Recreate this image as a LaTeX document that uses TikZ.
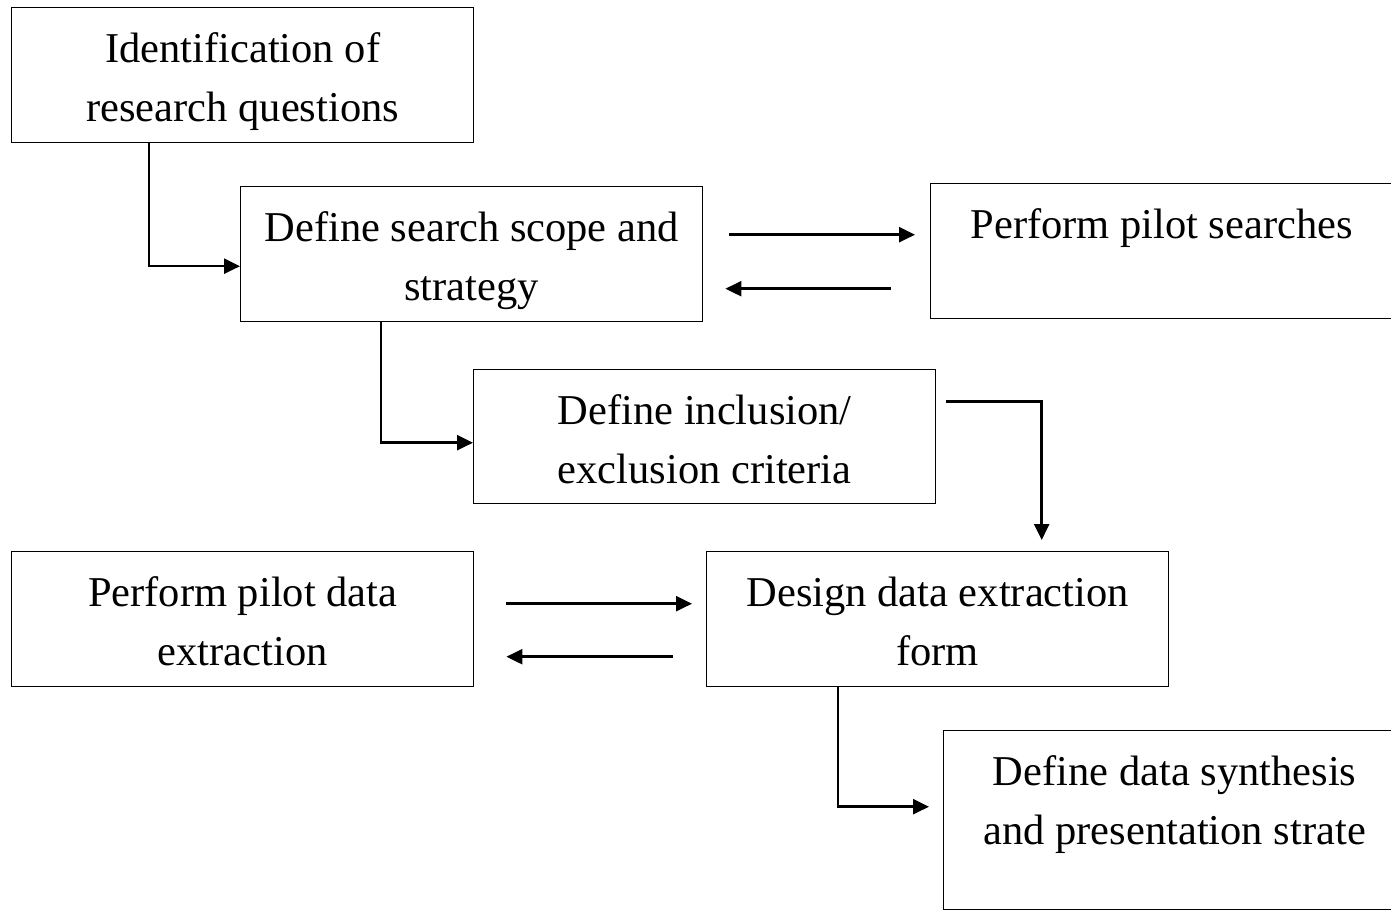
\documentclass[tikz,border=0pt]{standalone}
\usepackage{fontspec}
\setmainfont{Liberation Serif}
\usetikzlibrary{calc,arrows.meta}
\newcommand{\boxtext}[2]{\parbox[c][#1][t]{462pt}{\centering\rule{0pt}{55pt}#2}}
\begin{document}
\begin{tikzpicture}[x=1pt,y=-1pt,
  stepbox/.style={draw=black,line width=1.4pt,inner sep=0pt,anchor=north west,
    font=\fontsize{42.5}{59}\selectfont},
  conn/.style={line width=2.5pt,-{Triangle[length=16pt,width=15pt]}}]
\useasboundingbox (0,0) rectangle (1391,910);
\node[stepbox] (b1) at (11,7) {\boxtext{135pt}{Identification of\\research questions}};
\node[stepbox] (b2) at (240,186) {\boxtext{135pt}{Define search scope and\\strategy}};
\node[stepbox] (b3) at (930,183) {\boxtext{135pt}{Perform pilot searches}};
\node[stepbox] (b4) at (473,369) {\boxtext{134pt}{Define inclusion/\\exclusion criteria}};
\node[stepbox] (b5) at (11,551) {\boxtext{135pt}{Perform pilot data\\extraction}};
\node[stepbox] (b6) at (706,551) {\boxtext{135pt}{Design data extraction\\form}};
\node[stepbox] (b7) at (943,730) {\boxtext{179pt}{Define data synthesis\\and presentation strate}};
% connectors
\draw[conn] ($(b1.south west)+(138,0)$) |- ($(b2.west)+(0,12)$);
\draw[conn] ($(b2.east)+(26,-19.5)$) -- ($(b3.west)+(-15,-16.5)$);
\draw[conn] ($(b3.west)+(-39,37.5)$) -- ($(b2.east)+(22,34.5)$);
\draw[conn] ($(b2.south west)+(141,0)$) |- ($(b4.west)+(0,6)$);
\draw[conn] ($(b4.east)+(10,-35)$) -| ($(b6.north)+(104,-11)$);
\draw[conn] ($(b5.east)+(32,-15.5)$) -- ($(b6.west)+(-14,-15.5)$);
\draw[conn] ($(b6.west)+(-33,37.5)$) -- ($(b5.east)+(32,37.5)$);
\draw[conn] ($(b6.south west)+(132,0)$) |- ($(b7.west)+(-14,-13.5)$);
\end{tikzpicture}
\end{document}
